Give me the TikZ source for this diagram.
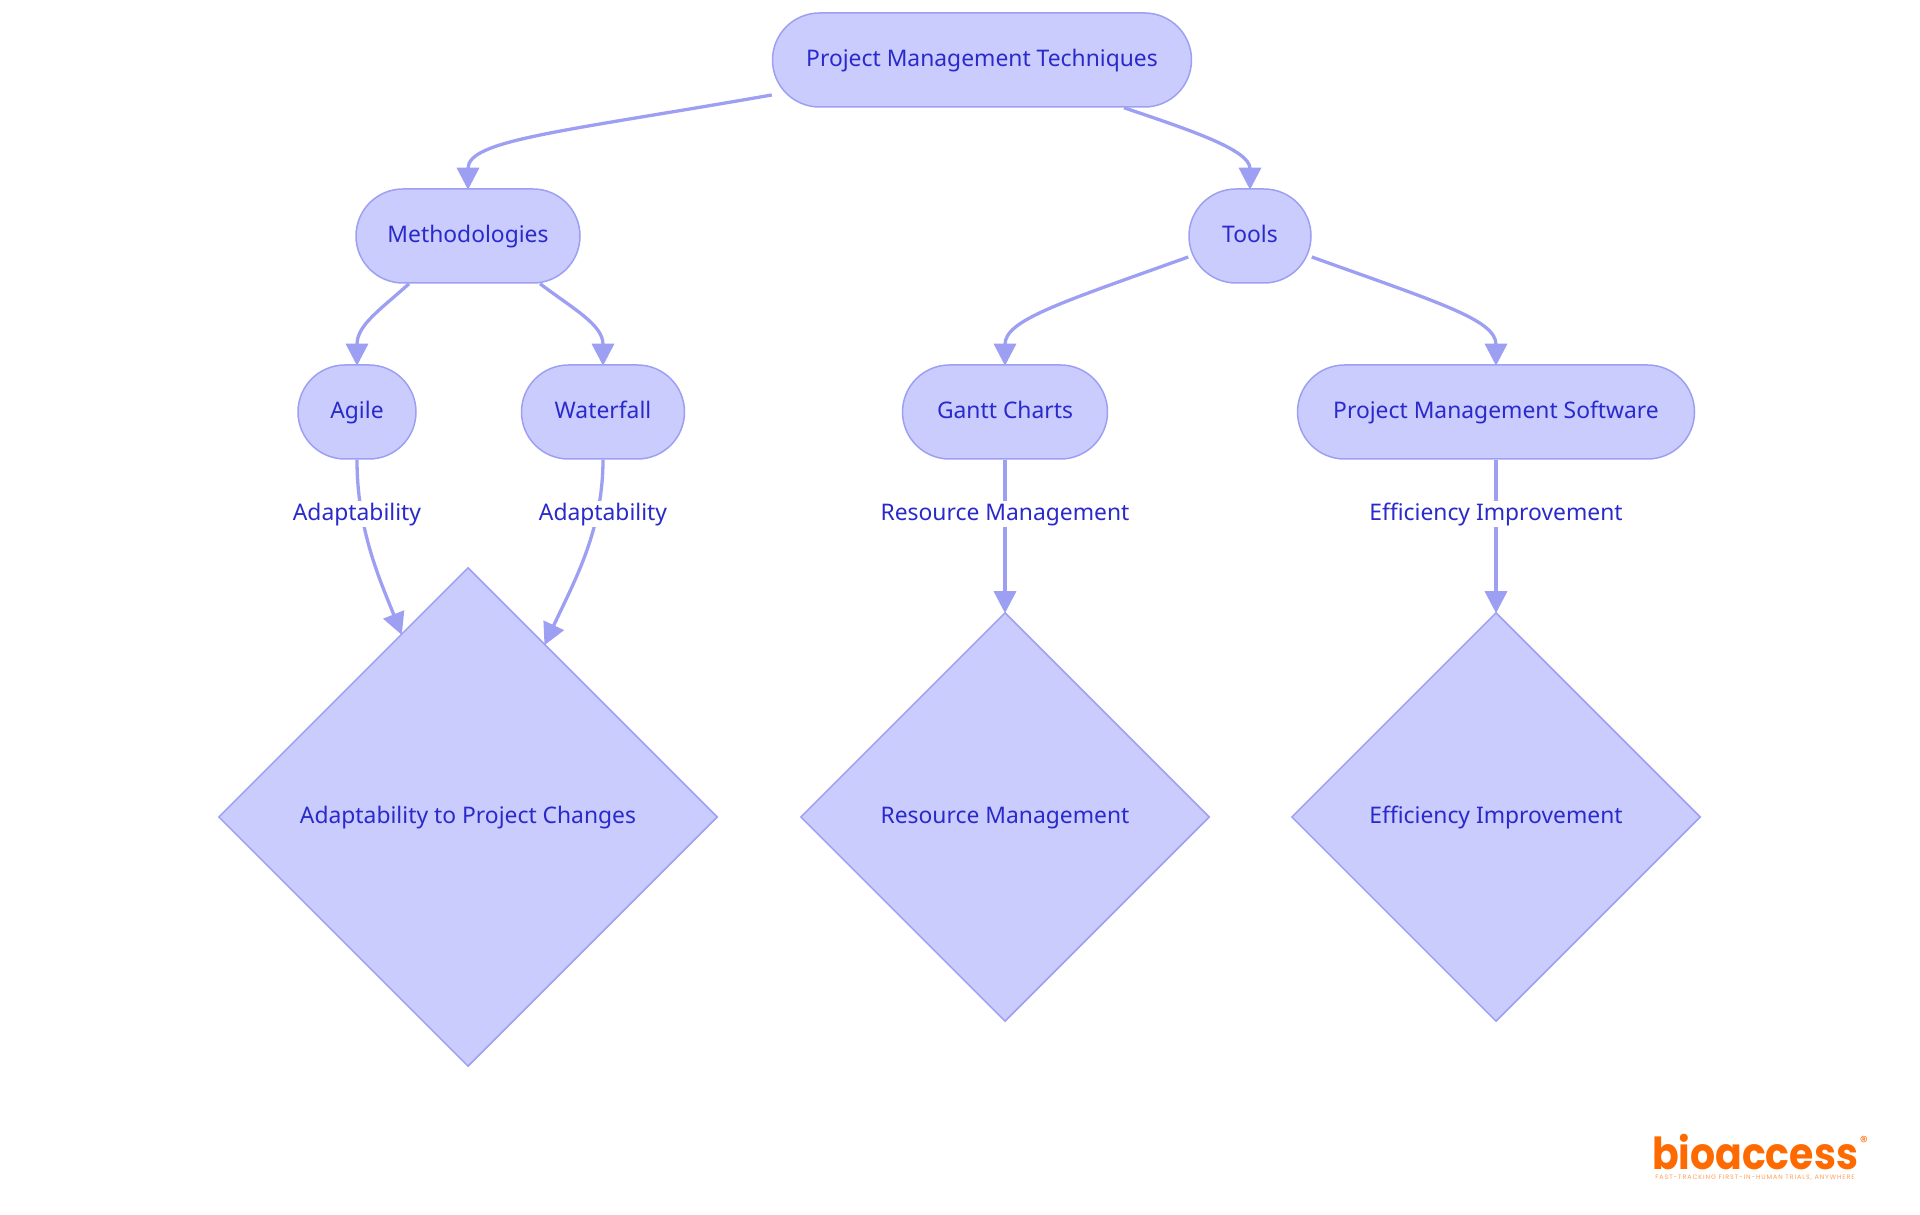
\documentclass[tikz,border=0pt]{standalone}
\usepackage{fontspec}
\setmainfont{Noto Sans}
\newfontfamily\logofont{Poppins}
\newfontfamily\tagfont[LetterSpace=14]{Poppins}
\usetikzlibrary{arrows.meta,shapes.geometric}
\definecolor{nodefill}{HTML}{CACCFE}
\definecolor{nodeline}{HTML}{9D9FF3}
\definecolor{nodetext}{HTML}{2A2ACB}
\definecolor{logoorange}{HTML}{FF6A00}
\tikzset{
  nodetype/.style={text=nodetext, text height=2mm, text depth=.6mm, font=\fontsize{6.5}{7.5}\selectfont},
  topic/.style={nodetype, draw=nodeline, fill=nodefill, line width=.15mm, rounded corners=4.7mm,
    minimum height=9.4mm, inner sep=0},
  goal/.style={nodetype, draw=nodeline, fill=nodefill, line width=.15mm, diamond, shape aspect=1, inner sep=0},
  flowline/.style={draw=nodeline, line width=.33mm, shorten >=-.15mm, -{Triangle[length=2.2mm,width=2.2mm]}},
  edgelabel/.style={nodetype, fill=white, inner xsep=0, inner ysep=0},
}
\begin{document}
\begin{tikzpicture}[x=.1mm,y=-.1mm]
\useasboundingbox (0,0) rectangle (1920,1215);

\node [topic, minimum width=41.9mm] (pmt) at (982,60) {Project Management Techniques};
\node [topic, minimum width=22.4mm] (meth) at (468,236) {Methodologies};
\node [topic, minimum width=12.2mm] (tools) at (1250,236) {Tools};
\node [topic, minimum width=11.8mm] (agile) at (357,412) {Agile};
\node [topic, minimum width=16.3mm] (waterfall) at (603,412) {Waterfall};
\node [topic, minimum width=20.5mm] (gantt) at (1005,412) {Gantt Charts};
\node [topic, minimum width=39.7mm] (pms) at (1496,412) {Project Management Software};

\node [goal, minimum width=49.9mm, minimum height=49.9mm] (adapt) at (468,817) {Adaptability to Project Changes};
\node [goal, minimum width=40.9mm, minimum height=40.9mm] (resource) at (1005,817) {Resource Management};
\node [goal, minimum width=40.9mm, minimum height=40.9mm] (effic) at (1496,817) {Efficiency Improvement};

\draw [flowline] ([yshift=-3.5mm]pmt.west) .. controls (560,132) and (468,140) .. (meth.north);
\draw [flowline] ([xshift=14.2mm]pmt.south) .. controls (1190,130) and (1250,150) .. (tools.north);
\draw [flowline] ([xshift=-5.9mm]meth.south) .. controls (380,310) and (357,325) .. (agile.north);
\draw [flowline] ([xshift=7.2mm]meth.south) .. controls (575,310) and (603,325) .. (waterfall.north);
\draw [flowline] ([yshift=-2.1mm]tools.west) .. controls (1060,303) and (1005,320) .. (gantt.north);
\draw [flowline] ([yshift=-2.1mm]tools.east) .. controls (1440,303) and (1496,320) .. (pms.north);
\draw [flowline] (agile.south) .. controls (357,530) and (380,580) .. (adapt.110);
\draw [flowline] (waterfall.south) .. controls (603,530) and (575,580) .. (adapt.66);
\draw [flowline] (gantt.south) -- (resource.north);
\draw [flowline] (pms.south) -- (effic.north);

\node [edgelabel] (adaptlabelA) at (357,514) {Adaptability};
\node [edgelabel] (adaptlabelB) at (603,514) {Adaptability};
\node [edgelabel] (resourcelabel) at (1005,514) {Resource Management};
\node [edgelabel] (efficlabel) at (1496,514) {Efficiency Improvement};

\node [text=logoorange, inner sep=0, text depth=0pt, anchor=base, transform shape, yscale=1.12,
  font=\logofont\bfseries\fontsize{11.2}{13}\selectfont] (logo) at (1755,1169) {bioaccess};
\node [text=logoorange, inner sep=0, font=\logofont\fontsize{4.5}{5}\selectfont] (logomark) at (1864,1142) {®};
\node [text=logoorange!65, inner sep=0, font=\tagfont\fontsize{1.83}{2}\selectfont] (tagline) at (1755,1178) {FAST-TRACKING FIRST-IN-HUMAN TRIALS, ANYWHERE};
\end{tikzpicture}
\end{document}
